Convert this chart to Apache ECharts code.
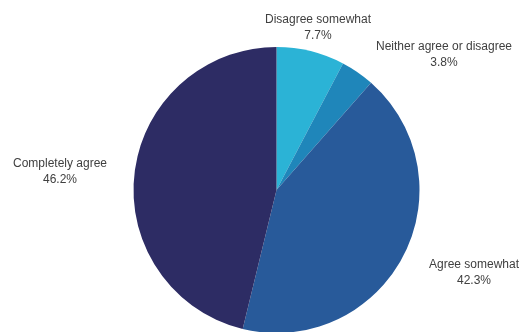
<!DOCTYPE html>
<html>
<head>
<meta charset="utf-8">
<script src="https://cdn.jsdelivr.net/npm/echarts@6/dist/echarts.min.js"></script>
<style>
  html, body { margin: 0; padding: 0; background: #fff; }
  #chart { width: 520px; height: 332px; }
</style>
</head>
<body>
<div id="chart"></div>
<script>
// Survey responses, clockwise from 12 o'clock
const categories = ['Disagree somewhat', 'Neither agree or disagree', 'Agree somewhat', 'Completely agree'];
const shares = [7.7, 3.8, 42.3, 46.2];
const sliceColors = ['#2bb3d6', '#1f86ba', '#285a9a', '#2d2c64'];

// Where each two-line label block is centred, in pixels
const labelSpots = [[318, 28], [444, 55], [474, 273], [60, 172]];

const chart = echarts.init(document.getElementById('chart'), null, { renderer: 'canvas' });

chart.setOption({
  animation: false,
  series: [{
    type: 'pie',
    center: [276.5, 190],
    radius: 143,
    startAngle: 90,
    clockwise: true,
    avoidLabelOverlap: false,
    label: {
      show: true,
      position: 'outside',
      formatter: '{b}\n{d}%',
      fontFamily: 'Liberation Sans, Arial, sans-serif',
      fontSize: 12,
      lineHeight: 16,
      color: '#404040'
    },
    labelLine: { show: false },
    labelLayout: (params) => ({
      x: labelSpots[params.dataIndex][0],
      y: labelSpots[params.dataIndex][1],
      align: 'center',
      verticalAlign: 'middle',
      hideOverlap: false
    }),
    emphasis: { disabled: true },
    data: categories.map((name, i) => ({
      name,
      value: shares[i],
      itemStyle: { color: sliceColors[i] }
    }))
  }]
});
</script>
</body>
</html>
